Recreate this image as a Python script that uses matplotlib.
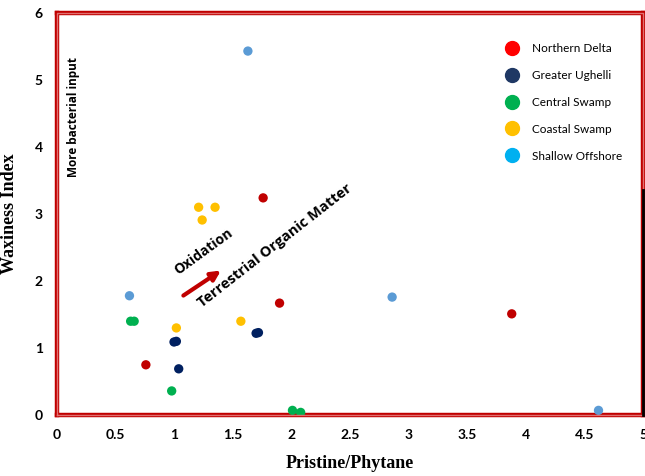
import matplotlib.pyplot as plt
from matplotlib.lines import Line2D

# Pr/Ph vs waxiness index by field group
nd_x = [1.76, 1.90, 0.76, 3.88]
nd_y = [3.24, 1.67, 0.75, 1.51]
gu_x = [1.00, 1.02, 1.04, 1.70, 1.72]
gu_y = [1.09, 1.10, 0.69, 1.22, 1.23]
cs_x = [0.63, 0.66, 0.98, 2.01, 2.08]
cs_y = [1.40, 1.40, 0.36, 0.07, 0.04]
co_x = [1.21, 1.35, 1.24, 1.02, 1.57]
co_y = [3.10, 3.10, 2.91, 1.30, 1.40]
so_x = [1.63, 0.62, 2.86, 4.62]
so_y = [5.43, 1.78, 1.76, 0.07]

groups = ['Northern Delta', 'Greater Ughelli', 'Central Swamp', 'Coastal Swamp', 'Shallow Offshore']
point_cols = ['#C00000', '#002060', '#00B050', '#FFC000', '#5B9BD5']
legend_cols = ['#FF0000', '#1F3864', '#00B050', '#FFC000', '#00B0F0']
xticks = [0, 0.5, 1, 1.5, 2, 2.5, 3, 3.5, 4, 4.5, 5]
yticks = [0, 1, 2, 3, 4, 5, 6]

fig = plt.figure(figsize=(6.45, 4.76), dpi=100)
ax = fig.add_axes([0.088, 0.128, 0.909, 0.845])

series = [(nd_x, nd_y), (gu_x, gu_y), (cs_x, cs_y), (co_x, co_y), (so_x, so_y)]
for (xs, ys), c in zip(series, point_cols):
    ax.scatter(xs, ys, s=45, color=c, edgecolors='none', zorder=3)

ax.set_xlim(0, 5)
ax.set_ylim(0, 6)
ax.set_xticks(xticks)
ax.set_xticklabels([('%g' % t) for t in xticks])
ax.set_yticks(yticks)
ax.tick_params(length=0, pad=10, labelsize=10)
for lab in ax.get_xticklabels() + ax.get_yticklabels():
    lab.set_fontfamily('Lato')
    lab.set_fontweight('bold')

# red double border
for sp in ax.spines.values():
    sp.set_color('#C00000')
    sp.set_linewidth(3.2)
ax.plot([0, 1, 1, 0, 0], [0, 0, 1, 1, 0], color='#E07070', lw=1.0,
        transform=ax.transAxes, clip_on=False, zorder=4)
ax.plot([5, 5], [0, 3.36], color='black', lw=2, clip_on=False, zorder=5)

ax.set_xlabel('Pristine/Phytane', family='Liberation Serif', fontweight='bold',
              fontsize=13, labelpad=10)
ax.set_ylabel('Waxiness Index', family='Liberation Serif', fontweight='bold',
              fontsize=13, labelpad=12)

# annotations
ax.annotate('', xy=(1.42, 2.18), xytext=(1.06, 1.76),
            arrowprops=dict(arrowstyle='-|>', color='#C00000', lw=3,
                            mutation_scale=14))
ax.text(1.25, 2.44, 'Oxidation', rotation=36, ha='center', va='center',
        family='Open Sans', fontweight='bold', fontsize=10)
ax.text(1.86, 2.52, 'Terrestrial Organic Matter', rotation=38, ha='center',
        va='center', family='Open Sans', fontweight='bold', fontsize=10.5)
ax.text(0.14, 4.45, 'More bacterial input', rotation=90, ha='center',
        va='center', family='Open Sans', fontweight='bold', fontsize=8.5)

handles = [Line2D([], [], marker='o', ls='none', color=c, markersize=10)
           for c in legend_cols]
leg = ax.legend(handles, groups, loc='upper left', bbox_to_anchor=(0.738, 0.952),
                frameon=False, labelspacing=1.35, handletextpad=0.7,
                prop={'family': 'Lato', 'size': 8.5})

fig.savefig('out.png', dpi=100)
